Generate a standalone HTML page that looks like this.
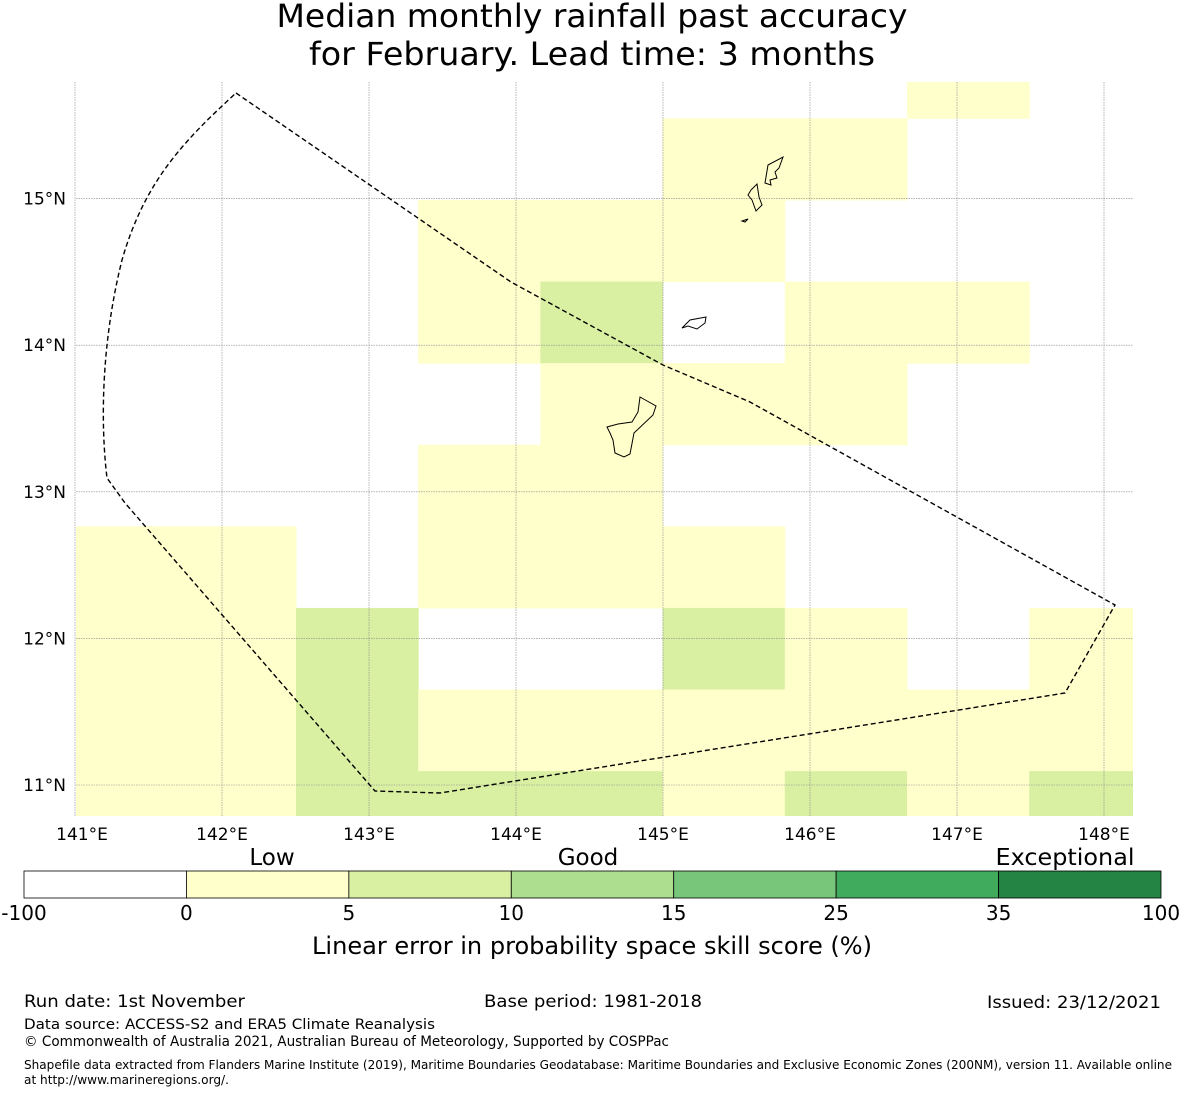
<!DOCTYPE html>
<html><head><meta charset="utf-8"><style>
body{margin:0;background:#fff;width:1185px;height:1095px;overflow:hidden;font-family:"DejaVu Sans","Liberation Sans",sans-serif;}
svg{position:absolute;left:0;top:0}
</style></head><body>
<svg width="1185" height="1095" font-family="DejaVu Sans, Liberation Sans, sans-serif">
<text x="592" y="27" font-size="32" text-anchor="middle" textLength="631" lengthAdjust="spacingAndGlyphs">Median monthly rainfall past accuracy</text>
<text x="592" y="65" font-size="32" text-anchor="middle" textLength="566" lengthAdjust="spacingAndGlyphs">for February. Lead time: 3 months</text>
<defs><clipPath id="mc"><rect x="76" y="82" width="1057" height="734"/></clipPath></defs>
<g id="cells" clip-path="url(#mc)"></g>
<g id="grid"></g>
<g id="islands" fill="none" stroke="#000" stroke-width="1">
<path d="M765,183 L768,165 L783,157 L779,168 L775,172 L777,178 L770,180 L771,185 Z"/>
<path d="M751,190 L757,184 L759,197 L762,205 L756,211 L752,200 L748,195 Z"/>
<path d="M742,221 L748,219 L745,222 Z"/>
<path d="M682,328 L690,320 L706,317 L705,323 L697,329 L688,326 Z"/>
<path d="M640,397 L656,406 L653,415 L634,433 L630,454 L624,457 L615,453 L613,440 L610,433 L607,427 L618,424 L632,422 L638,412 Z"/>
</g>
<path id="boundary" fill="none" stroke="#000" stroke-width="1.4" stroke-dasharray="5,3"
 d="M236,93 L511,282 L663,365 L750,402 L1115,605 L1065,693 L440,793 L375,791 L125,503 L107,478 C100,420 102,340 122,260 C145,180 185,140 236,93 Z"/>
<g id="axes" font-size="17"></g>
<g id="cbar"></g>
<text x="272" y="865" font-size="23" text-anchor="middle">Low</text>
<text x="588" y="865" font-size="23" text-anchor="middle">Good</text>
<text x="1065" y="865" font-size="23" text-anchor="middle" textLength="139" lengthAdjust="spacingAndGlyphs">Exceptional</text>
<text x="592" y="954" font-size="24" text-anchor="middle" textLength="560" lengthAdjust="spacingAndGlyphs">Linear error in probability space skill score (%)</text>
<g font-size="17">
<text x="24" y="1007" textLength="221" lengthAdjust="spacingAndGlyphs">Run date: 1st November</text>
<text x="484" y="1007" textLength="218" lengthAdjust="spacingAndGlyphs">Base period: 1981-2018</text>
<text x="987" y="1008" textLength="174" lengthAdjust="spacingAndGlyphs">Issued: 23/12/2021</text>
<text x="24" y="1029" font-size="14.5" textLength="411" lengthAdjust="spacingAndGlyphs">Data source: ACCESS-S2 and ERA5 Climate Reanalysis</text>
<text x="24" y="1046" font-size="14" textLength="645" lengthAdjust="spacingAndGlyphs">© Commonwealth of Australia 2021, Australian Bureau of Meteorology, Supported by COSPPac</text>
<text x="24" y="1069" font-size="12.5" textLength="1148" lengthAdjust="spacingAndGlyphs">Shapefile data extracted from Flanders Marine Institute (2019), Maritime Boundaries Geodatabase: Maritime Boundaries and Exclusive Economic Zones (200NM), version 11. Available online</text>
<text x="24" y="1084" font-size="12.5" textLength="205" lengthAdjust="spacingAndGlyphs">at http://www.marineregions.org/.</text>
</g>
</svg>
<script>
const lonTicks=[141,142,143,144,145,146,147,148];
const latTicks=[15,14,13,12,11];
const cbBounds=[-100,0,5,10,15,25,35,100];
const cbColors=['#ffffff','#ffffcc','#d9f0a3','#addd8e','#78c679','#41ab5d','#238443'];
// skill values per grid cell, rows top->bottom, cols left->right (null = no data)
const N=null;
const skillRows=[
[N,N,N,N,N,N,N,2,N],
[N,N,N,N,N,2,2,N,N],
[N,N,N,2,2,2,N,N,N],
[N,N,N,2,7,N,2,2,N],
[N,N,N,N,2,2,2,N,N],
[N,N,N,2,2,N,N,N,N],
[2,2,N,2,2,2,N,N,N],
[2,2,7,N,N,7,2,N,2],
[2,2,7,2,2,2,2,2,2],
[2,2,7,7,7,2,7,2,7]];
const cellLon0=140.8408, cellDLon=0.8313, cellLat0=16.104, cellDLat=0.5566;
const X=lon=>75+(lon-141)*147;
const Y=lat=>785-(lat-11)*146.6;
const ns='http://www.w3.org/2000/svg';
function mk(t,a,p){const e=document.createElementNS(ns,t);for(const k in a)e.setAttribute(k,a[k]);p.appendChild(e);return e;}
function color(v){for(let i=0;i<cbColors.length;i++){if(v<cbBounds[i+1])return cbColors[i];}return cbColors[cbColors.length-1];}
const cells=document.getElementById('cells');
skillRows.forEach((row,r)=>row.forEach((v,c)=>{if(v===null)return;
 const x0=X(cellLon0+c*cellDLon),x1=X(cellLon0+(c+1)*cellDLon),y0=Y(cellLat0-r*cellDLat),y1=Y(cellLat0-(r+1)*cellDLat);
 const e=mk('rect',{x:x0,y:y0,width:x1-x0+0.5,height:y1-y0+0.5,fill:color(v)},cells);
 
 }));
const grid=document.getElementById('grid'),axes=document.getElementById('axes');
lonTicks.forEach(l=>{const x=X(l);
 const g=mk('line',{x1:x,x2:x,y1:82,y2:816,stroke:'#888',"stroke-width":0.6,"stroke-dasharray":"1.5,1"},grid);
 
 const t=mk('text',{x:l===141?82:x,y:840,"text-anchor":"middle"},axes);t.textContent=l+'°E';
 });
latTicks.forEach(l=>{const y=Y(l);
 const g=mk('line',{x1:76,x2:1133,y1:y,y2:y,stroke:'#888',"stroke-width":0.6,"stroke-dasharray":"1.5,1"},grid);
 
 const t=mk('text',{x:66,y:y+6,"text-anchor":"end"},axes);t.textContent=l+'°N';
 });
const cb=document.getElementById('cbar');const cbx=24,cbw=1137,n=cbColors.length,sw=cbw/n;
cbColors.forEach((c,i)=>{const e=mk('rect',{x:cbx+i*sw,y:871,width:sw,height:27,fill:c,stroke:'#000',"stroke-width":0.8},cb);
 });
cbBounds.forEach((b,i)=>{const t=mk('text',{x:cbx+i*sw,y:920,"font-size":20,"text-anchor":"middle"},cb);t.textContent=b;
 });
</script>
</body></html>
